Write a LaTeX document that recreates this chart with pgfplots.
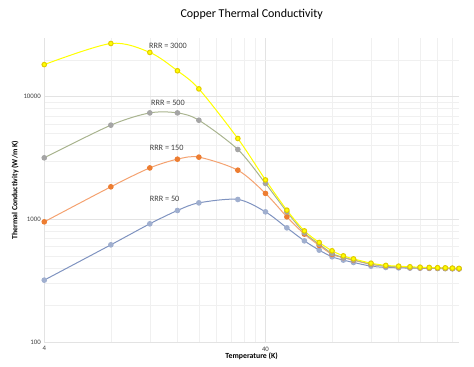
\documentclass[border=0pt]{standalone}
\usepackage{fontspec}
\setmainfont{Carlito}
\usepackage{pgfplots}
\pgfplotsset{compat=1.18}
\definecolor{ylw}{HTML}{FFFF00}
\definecolor{ylwedge}{HTML}{E2CC00}
\definecolor{grnline}{HTML}{A9B48F}
\definecolor{grymark}{HTML}{A5A5A5}
\definecolor{orgline}{HTML}{F4A270}
\definecolor{orgmark}{HTML}{ED7D31}
\definecolor{bluline}{HTML}{7F93C0}
\definecolor{blumark}{HTML}{A0AFCF}
\definecolor{gridc}{HTML}{E3E3E3}
\definecolor{gridm}{HTML}{F0F0F0}
\begin{document}
\begin{tikzpicture}
\begin{axis}[
  scale only axis, width=415pt, height=304pt,
  xmode=log, ymode=log, log basis x=10, log basis y=10,
  xmin=4, xmax=300, ymin=100, ymax=30000,
  xtick={4,40}, xticklabels={4,40},
  minor xtick={8,12,16,20,24,28,32,36,80,120,160,200,240,280},
  ytick={100,1000,10000}, yticklabels={100,1000,10000},
  minor ytick={200,300,400,500,600,700,800,900,2000,3000,4000,5000,6000,7000,8000,9000,20000},
  grid=both,
  major grid style={draw=gridc, line width=0.6pt},
  minor grid style={draw=gridm, line width=0.5pt},
  axis line style={draw=gridc},
  axis x line*=bottom, axis y line*=left,
  tick style={draw=none},
  ticklabel style={font=\fontsize{6.8}{7}\selectfont, text=black!75},
  xticklabel style={yshift=-1pt},
  xlabel={\textbf{Temperature (K)}},
  ylabel={\textbf{Thermal Conductivity (W/m K)}},
  label style={font=\fontsize{7.8}{9}\selectfont},
  xlabel style={yshift=5pt},
  ylabel style={yshift=-2pt},
  title={Copper Thermal Conductivity},
  title style={font=\fontsize{12}{14}\selectfont, yshift=9pt},
  every axis plot/.append style={smooth, tension=0.5, line width=1pt, mark=*, mark size=2.3pt},
]
% RRR = 50
\addplot[color=bluline, mark options={fill=blumark, draw=blumark}] coordinates {
(4,320) (8,621) (12,921) (16,1183) (20,1365) (30,1455) (40,1153) (50,854) (60,669) (70,562) (80,496) (90,466) (100,446) (120,416) (140,406) (160,403) (180,401) (200,400) (220,399) (240,398) (260,397) (280,396) (300,395)};
% RRR = 150
\addplot[color=orgline, mark options={fill=orgmark, draw=orgmark}] coordinates {
(4,956) (8,1845) (12,2630) (16,3100) (20,3220) (30,2520) (40,1630) (50,1050) (60,759) (70,614) (80,519) (90,488) (100,465) (120,430) (140,415) (160,409) (180,405) (200,403) (220,401) (240,400) (260,399) (280,398) (300,396)};
% RRR = 500
\addplot[color=grnline, mark options={fill=grymark, draw=grymark}] coordinates {
(4,3180) (8,5870) (12,7390) (16,7390) (20,6440) (30,3720) (40,1965) (50,1153) (60,778) (70,629) (80,528) (90,490) (100,468) (120,432) (140,416) (160,410) (180,406) (200,404) (220,402) (240,401) (260,400) (280,399) (300,397)};
% RRR = 3000
\addplot[color=ylw, mark options={fill=ylw, draw=ylwedge}] coordinates {
(4,18300) (8,27200) (12,23000) (16,16300) (20,11600) (30,4570) (40,2100) (50,1190) (60,807) (70,649) (80,555) (90,505) (100,477) (120,440) (140,422) (160,416) (180,411) (200,408) (220,406) (240,404) (260,403) (280,401) (300,399)};
\node[font=\fontsize{8.2}{9}\selectfont, text=black!75] at (axis cs:14.5,25800) {RRR = 3000};
\node[font=\fontsize{8.2}{9}\selectfont, text=black!75] at (axis cs:14.5,8870) {RRR = 500};
\node[font=\fontsize{8.2}{9}\selectfont, text=black!75] at (axis cs:14.3,3810) {RRR = 150};
\node[font=\fontsize{8.2}{9}\selectfont, text=black!75] at (axis cs:14.0,1463) {RRR = 50};
\end{axis}
\pgfresetboundingbox
\path ([xshift=-44.3pt,yshift=-24pt]current axis.south west) rectangle ([xshift=15pt,yshift=38.3pt]current axis.north east);
\end{tikzpicture}
\end{document}
